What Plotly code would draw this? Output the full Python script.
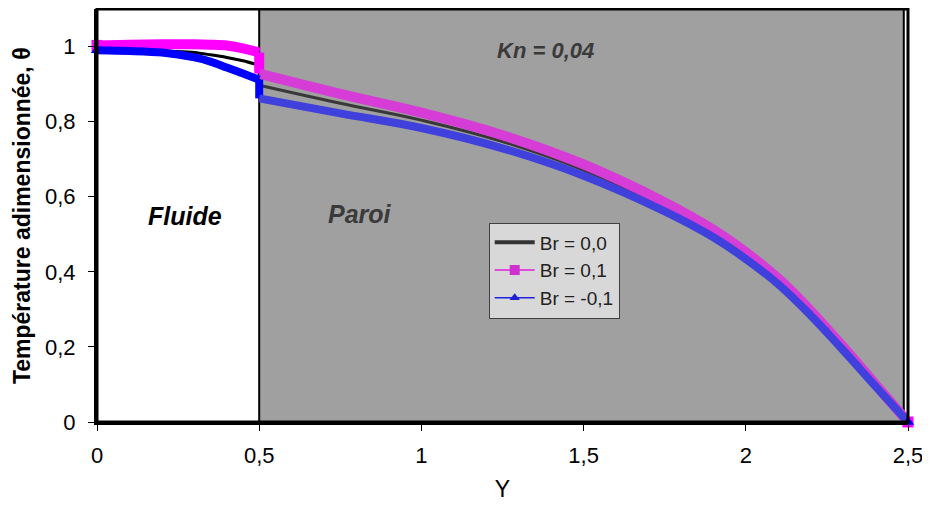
import plotly.graph_objects as go

# ---- data ----
Y_fluid = [0.0, 0.1, 0.2, 0.3, 0.35, 0.4, 0.45, 0.5]
br0_fluid = [0.990, 0.990, 0.988, 0.984, 0.978, 0.971, 0.962, 0.950]
brp_fluid = [1.003, 1.005, 1.006, 1.006, 1.005, 1.003, 0.995, 0.984]
brm_fluid = [0.990, 0.988, 0.984, 0.971, 0.960, 0.944, 0.928, 0.912]

Y_wall = [0.5, 0.75, 1.0, 1.25, 1.5, 1.75, 1.9, 2.0, 2.1, 2.2, 2.3, 2.4, 2.5]
br0_wall = [0.897, 0.849, 0.804, 0.747, 0.671, 0.573, 0.502, 0.443, 0.375, 0.290, 0.196, 0.098, 0.0]
brp_wall = [0.928, 0.874, 0.824, 0.764, 0.686, 0.585, 0.512, 0.452, 0.382, 0.296, 0.200, 0.100, 0.0]
brm_wall = [0.862, 0.822, 0.783, 0.729, 0.656, 0.561, 0.492, 0.434, 0.367, 0.284, 0.191, 0.095, 0.0]

series_names = ["Br = 0,0", "Br = 0,1", "Br = -0,1"]
x_ticks = [0, 0.5, 1, 1.5, 2, 2.5]
y_ticks = [0, 0.2, 0.4, 0.6, 0.8, 1.0]

FONT = "Liberation Sans, Arial, sans-serif"

fig = go.Figure()

def add_series(fluid, wall, color_f, color_w, width, symbol, msize):
    fig.add_trace(go.Scatter(x=Y_fluid, y=fluid, mode="lines",
                             line=dict(color=color_f, width=width, shape="spline", smoothing=0.8),
                             showlegend=False, hoverinfo="skip"))
    fig.add_trace(go.Scatter(x=[Y_fluid[-1], Y_wall[0]], y=[fluid[-1], wall[0]], mode="lines",
                             line=dict(color=color_f, width=width), showlegend=False,
                             hoverinfo="skip"))
    fig.add_trace(go.Scatter(x=Y_wall, y=wall, mode="lines",
                             line=dict(color=color_w, width=width, shape="spline", smoothing=1.2),
                             showlegend=False, hoverinfo="skip"))
    if symbol:
        fig.add_trace(go.Scatter(x=[Y_fluid[0], Y_wall[-1]], y=[fluid[0], wall[-1]], mode="markers",
                                 marker=dict(symbol=symbol, size=msize, color=color_f),
                                 showlegend=False, hoverinfo="skip", cliponaxis=False))

add_series(br0_fluid, br0_wall, "#000000", "#383838", 3, None, 0)
add_series(brp_fluid, brp_wall, "#ff00ff", "#d63cd6", 10, "square", 11)
add_series(brm_fluid, brm_wall, "#0000ff", "#4040dc", 8, "triangle-up", 11)

# legend entries (thin lines with markers, as in the reference legend)
fig.add_trace(go.Scatter(x=[None], y=[None], mode="lines", name=series_names[0],
                         line=dict(color="#333333", width=4)))
fig.add_trace(go.Scatter(x=[None], y=[None], mode="lines+markers", name=series_names[1],
                         line=dict(color="#e020e0", width=1.5),
                         marker=dict(symbol="square", size=10, color="#d030d0")))
fig.add_trace(go.Scatter(x=[None], y=[None], mode="lines+markers", name=series_names[2],
                         line=dict(color="#2020e0", width=1.5),
                         marker=dict(symbol="triangle-up", size=9, color="#2020d0")))

shapes = [
    dict(type="rect", xref="x", yref="y", x0=0.5, x1=2.487, y0=0, y1=1.1,
         fillcolor="#a0a0a0", line=dict(color="#000000", width=2), layer="below"),
    dict(type="rect", xref="paper", yref="paper", x0=0, x1=1, y0=0, y1=1,
         line=dict(color="#000000", width=3), fillcolor="rgba(0,0,0,0)", layer="above"),
]

annotations = [
    dict(x=0.27, y=0.548, xref="x", yref="y", text="<b><i>Fluide</i></b>", showarrow=False,
         font=dict(family=FONT, size=25, color="#000000")),
    dict(x=0.81, y=0.553, xref="x", yref="y", text="<b><i>Paroi</i></b>", showarrow=False,
         font=dict(family=FONT, size=25, color="#3a3a3a")),
    dict(x=1.384, y=0.99, xref="x", yref="y", text="<b><i>Kn = 0,04</i></b>", showarrow=False,
         font=dict(family=FONT, size=22, color="#3a3a3a")),
    dict(x=-0.093, y=0.5, xref="paper", yref="paper", xanchor="center", yanchor="middle",
         text="<b>Température adimensionnée, θ</b>", textangle=-90, showarrow=False,
         font=dict(family=FONT, size=23, color="#000000")),
]

# the page body adds an 8 px offset; sizes below compensate for it
fig.update_layout(
    width=922, height=498,
    margin=dict(l=89, r=22, t=1, b=84),
    paper_bgcolor="#ffffff", plot_bgcolor="#ffffff",
    separators=", ",
    font=dict(family=FONT, size=20, color="#000000"),
    shapes=shapes, annotations=annotations,
    showlegend=True,
    legend=dict(x=0.483, y=0.483, xanchor="left", yanchor="top",
                bgcolor="#d8d8d8", bordercolor="#404040", borderwidth=1,
                font=dict(family=FONT, size=19, color="#222222"),
                tracegroupgap=0, itemwidth=40),
    xaxis=dict(range=[0, 2.5], tickvals=x_ticks, ticks="outside", ticklen=6,
               tickcolor="#000000", showgrid=False, zeroline=False, automargin=False,
               showline=True, linecolor="#000000", linewidth=3, ticklabelstandoff=6,
               tickfont=dict(size=22), title=dict(text="Y", font=dict(size=23), standoff=14)),
    yaxis=dict(range=[0, 1.1], tickvals=y_ticks, ticks="outside", ticklen=6,
               tickcolor="#000000", showgrid=False, zeroline=False, automargin=False,
               showline=True, linecolor="#000000", linewidth=3, ticklabelstandoff=8,
               tickfont=dict(size=22)),
)

fig.write_html("out.html")
